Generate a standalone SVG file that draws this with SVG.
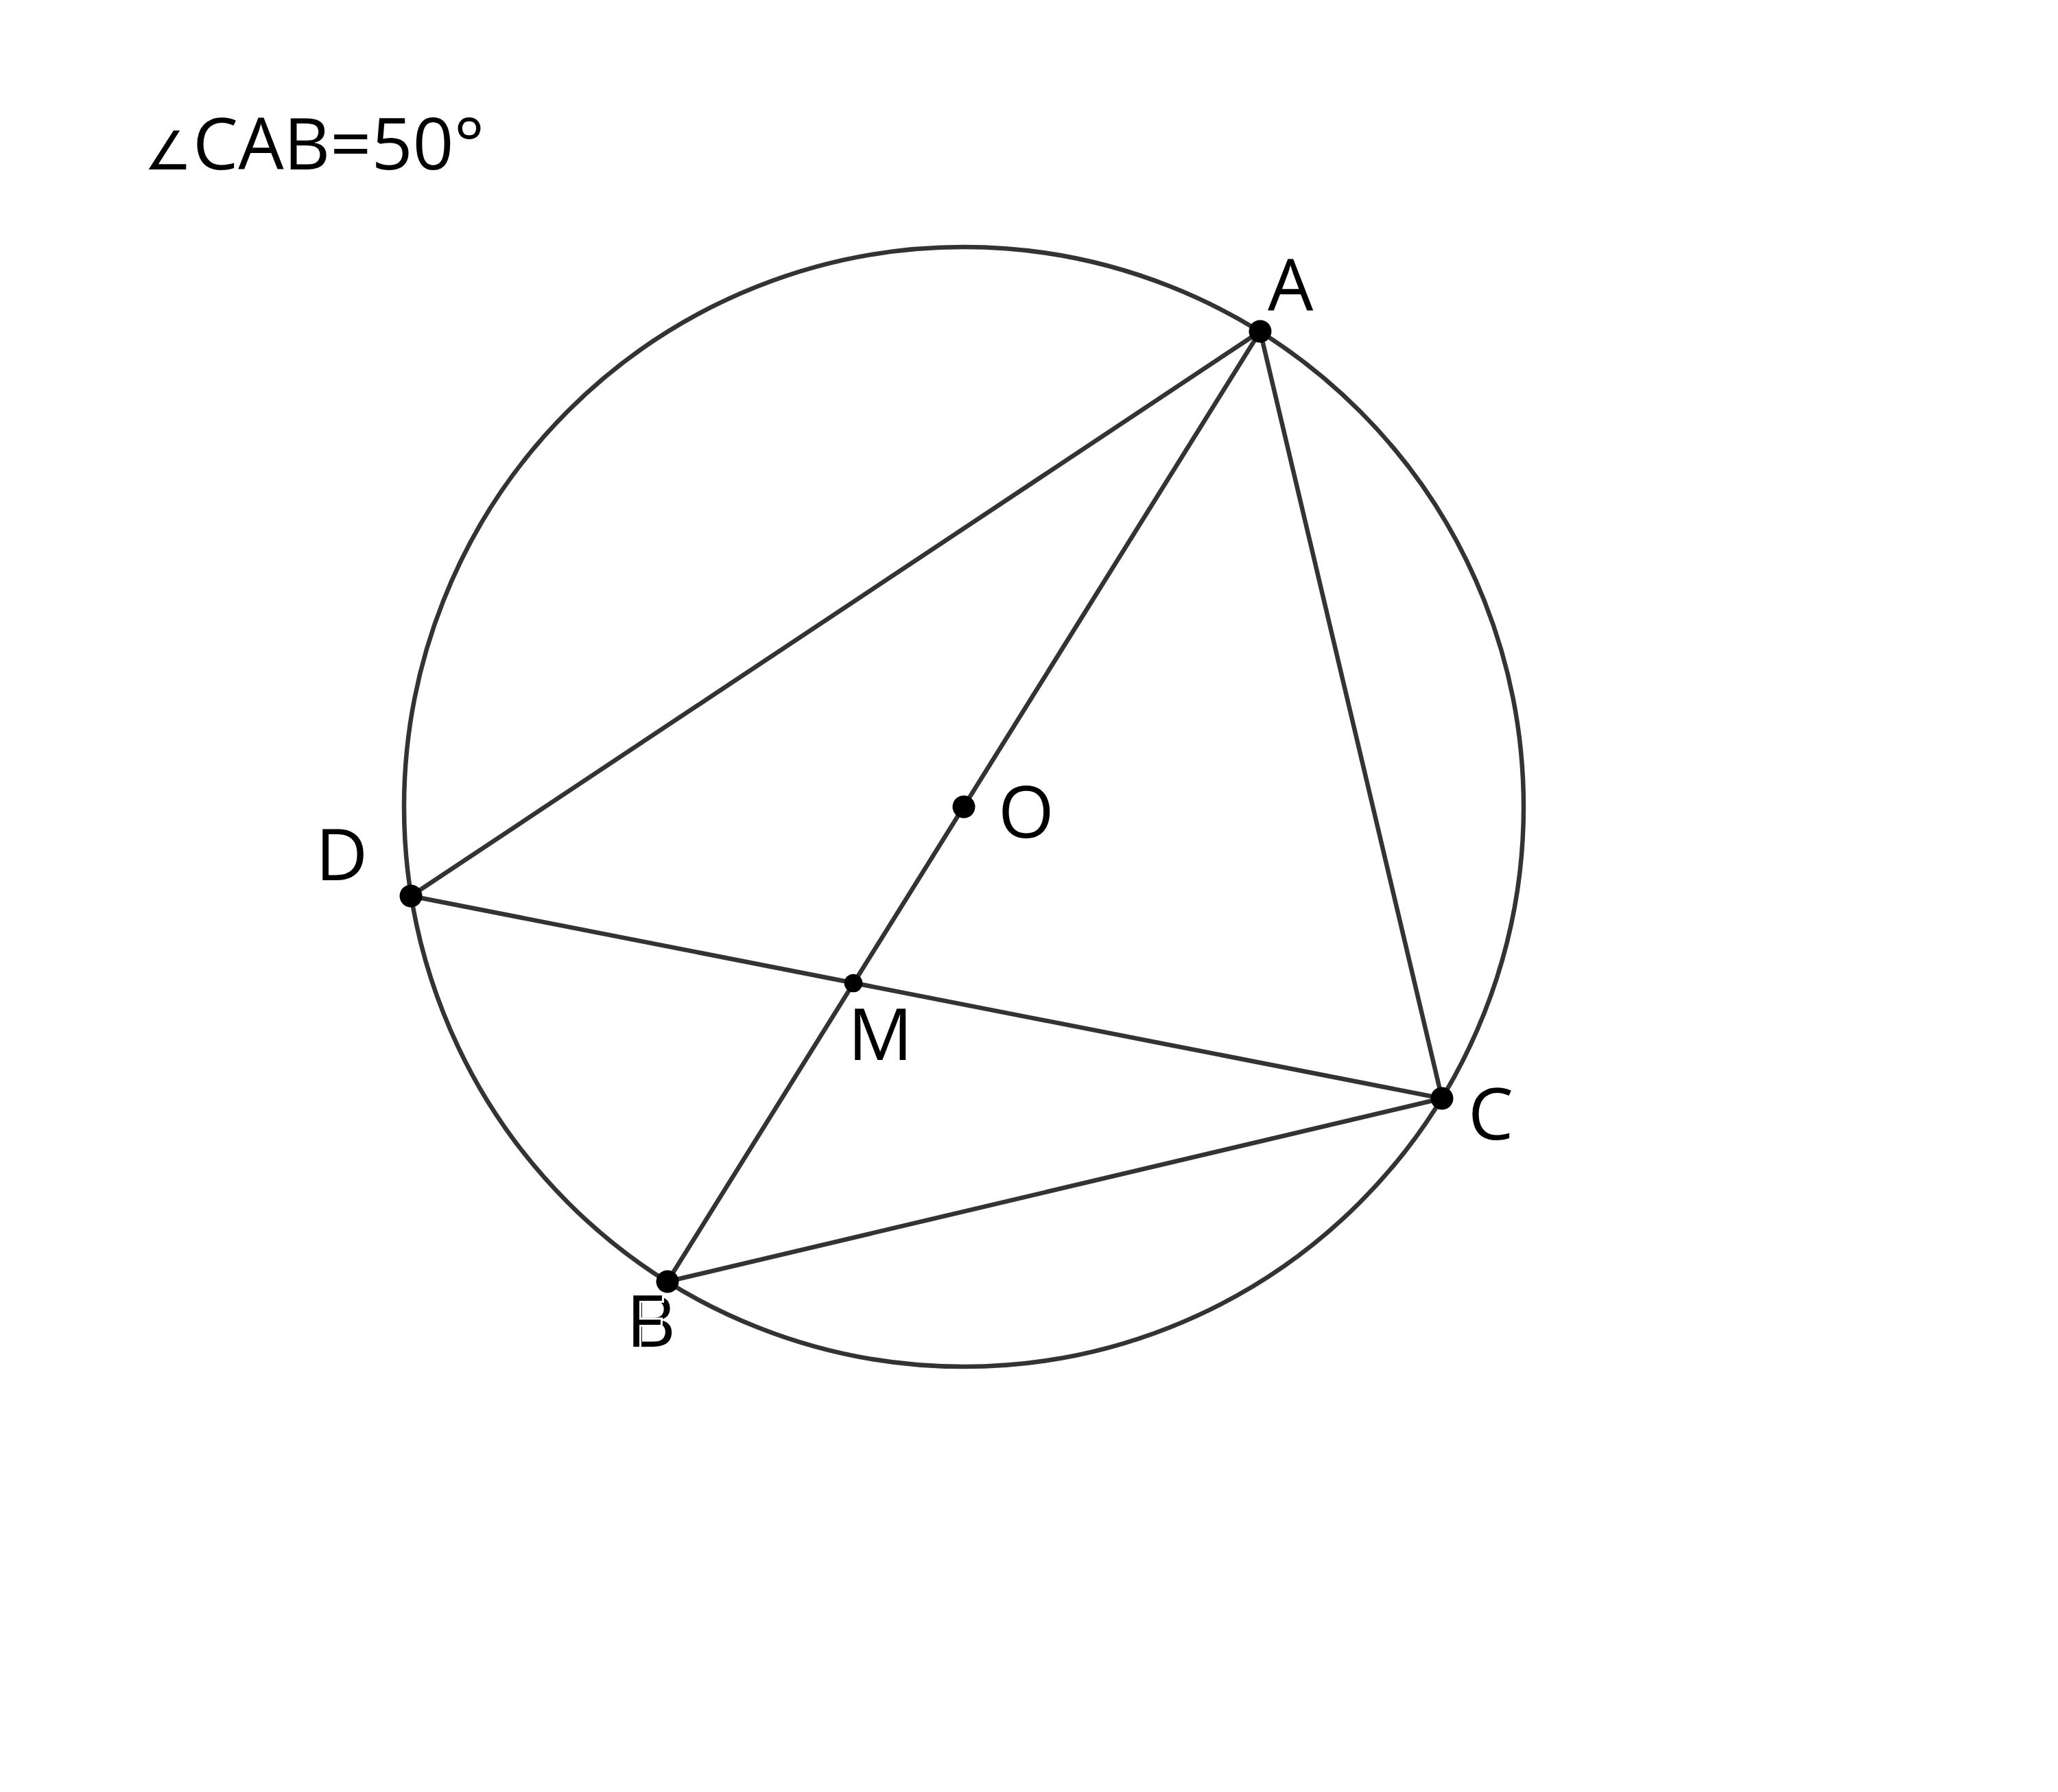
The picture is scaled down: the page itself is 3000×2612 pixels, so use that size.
<svg xmlns="http://www.w3.org/2000/svg" width="3000" height="2612" viewBox="0 0 3000 2612">
<style>
.ln{stroke:#333333;stroke-width:6.5;fill:none;stroke-linecap:round}
.pt{fill:#000000}
.lb{font-family:"Open Sans","Noto Sans","DejaVu Sans",sans-serif;font-size:105px;fill:#000000}
.ang{font-family:"DejaVu Sans",sans-serif;font-size:78px}
.halo{stroke:#ffffff;stroke-width:6;paint-order:stroke fill}
</style>
<rect width="3000" height="2612" fill="#ffffff"/>
<text id="title" class="lb" y="247"><tspan class="ang" x="210">∠</tspan><tspan x="281">CAB=50°</tspan></text>
<g id="connectors">
<circle id="circle" class="ln" cx="1405" cy="1176" r="816"/>
<line class="ln" x1="1837" y1="483" x2="599" y2="1306"/>
<line class="ln" x1="1837" y1="483" x2="973" y2="1868"/>
<line class="ln" x1="1837" y1="483" x2="2102" y2="1601"/>
<line class="ln" x1="599" y1="1306" x2="2102" y2="1601"/>
<line class="ln" x1="973" y1="1868" x2="2102" y2="1601"/>
</g>
<g id="A"><circle class="pt" cx="1837" cy="483" r="16.5"/><text class="lb" x="1848" y="453">A</text></g>
<g id="O"><circle class="pt" cx="1405" cy="1176" r="16.5"/><text class="lb" x="1455" y="1221">O</text></g>
<g id="D"><circle class="pt" cx="599" cy="1306" r="16.5"/><text class="lb" x="460" y="1283">D</text></g>
<g id="C"><circle class="pt" cx="2102" cy="1601" r="16.5"/><text class="lb" x="2140" y="1661">C</text></g>
<g id="M"><circle class="pt" cx="1244" cy="1433" r="13.3"/><text class="lb" x="1236" y="1545">M</text></g>
<g id="B"><circle class="pt" cx="973" cy="1868" r="16.5"/><text class="lb" x="917" y="1963">B</text></g>
<g id="F"><text class="lb halo" x="913" y="1963">F</text></g>
</svg>
